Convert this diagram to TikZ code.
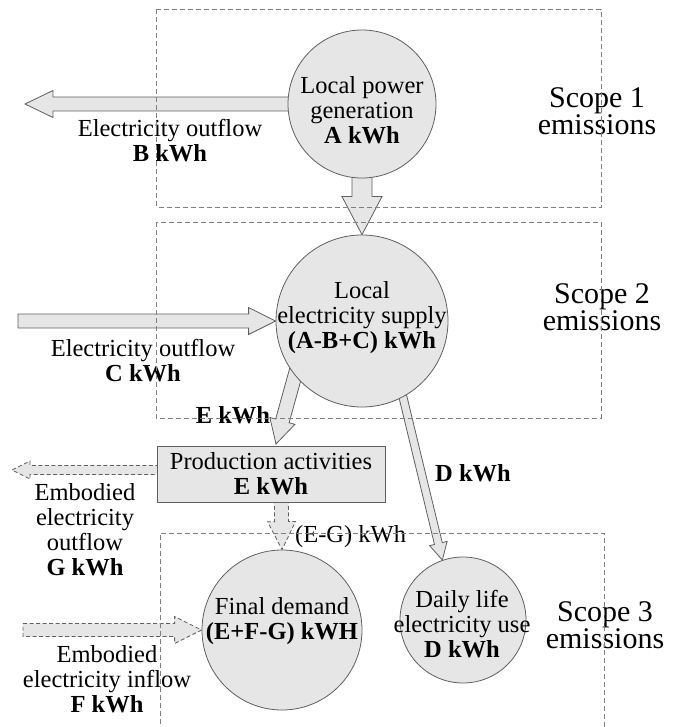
\documentclass[tikz,border=0pt]{standalone}
\usepackage{fontspec}
\setmainfont{Liberation Serif}
\usetikzlibrary{calc,backgrounds}
\definecolor{fillgray}{HTML}{E6E6E6}
\definecolor{linegray}{HTML}{606060}
\definecolor{dashgray}{HTML}{808080}
% #1 style, #2 from, #3 to, #4 half shaft width, #5 half head width, #6 head length
\newcommand\blockarrow[6]{%
  \coordinate (ba-h) at ($(#3)!#6!(#2)$);
  \draw[#1] ($(#2)!#4!90:(#3)$) -- ($(ba-h)!#4!90:(#3)$) -- ($(ba-h)!#5!90:(#3)$) -- (#3)
    -- ($(ba-h)!#5!-90:(#3)$) -- ($(ba-h)!#4!-90:(#3)$) -- ($(#2)!#4!-90:(#3)$) -- cycle;
}
\begin{document}
\begin{tikzpicture}[x=1pt,y=-1pt,
  lbl/.style={font=\fontsize{24.5pt}{25pt}\selectfont, align=center, inner sep=0pt},
  circ/.style={circle, draw=linegray, fill=fillgray, line width=0.8pt, inner sep=0pt},
  arr/.style={draw=linegray, fill=fillgray, line width=0.8pt, line join=miter},
  darr/.style={arr, dash pattern=on 4pt off 2.5pt},
  scopebox/.style={draw=dashgray, line width=0.9pt, dash pattern=on 5pt off 3pt},
  scopelbl/.style={font=\fontsize{30pt}{24pt}\selectfont, align=center, inner sep=0pt}]
\useasboundingbox (0,0) rectangle (673,727);

% nodes
\node[circ, minimum size=148pt] (gen) at (362,104) {};
\node[lbl] (genT) at (362,110) {Local power\\generation\\\textbf{A kWh}};
\node[circ, minimum size=172pt] (sup) at (362,321) {};
\node[lbl] (supT) at (362,318) {Local\\electricity supply\\\textbf{(A-B+C) kWh}};
\node[lbl, draw=linegray, fill=fillgray, line width=0.8pt, minimum width=228pt, minimum height=56pt] (prod) at (271,474) {Production activities\\\textbf{E kWh}};
\node[circ, minimum size=160pt] (final) at (282,630) {};
\node[lbl] (finalT) at (282,621) {Final demand\\\textbf{(E+F-G) kWH}};
\node[circ, minimum size=126pt] (daily) at (463,620) {};
\node[lbl] (dailyT) at (462,624) {Daily life\\electricity use\\\textbf{D kWh}};

% arrows (behind)
\begin{pgfonlayer}{background}
\coordinate (btip) at (25,104);
\blockarrow{arr}{gen.center}{btip}{7pt}{13.5pt}{28pt}
\blockarrow{arr}{gen.center}{sup.north}{10pt}{20pt}{38pt}
\coordinate (ctail) at (18,321);
\blockarrow{arr}{ctail}{sup.west}{7pt}{13.5pt}{27pt}
\coordinate (estart) at (302,350);
\coordinate (etip) at (276,444);
\blockarrow{arr}{estart}{etip}{7pt}{13pt}{24pt}
\coordinate (dstart) at (394,360);
\blockarrow{arr}{dstart}{daily.109}{4pt}{9pt}{17pt}
\coordinate (gstart) at (200,470);
\coordinate (gtip) at (12,470);
\blockarrow{darr}{gstart}{gtip}{4.5pt}{9pt}{18pt}
\coordinate (egstart) at (281,480);
\blockarrow{darr}{egstart}{final.north}{7pt}{14pt}{28pt}
\coordinate (ftail) at (23,630);
\blockarrow{darr}{ftail}{final.west}{6.5pt}{13.5pt}{27pt}
\end{pgfonlayer}

% labels
\node[lbl] (bT) at (170,141) {Electricity outflow\\\textbf{B kWh}};
\node[lbl] (cT) at (143,361) {Electricity outflow\\\textbf{C kWh}};
\node[lbl] (gT) at (85,530) {Embodied\\electricity\\outflow\\\textbf{G kWh}};
\node[lbl] (fT) at (107,679) {Embodied\\electricity inflow\\\textbf{F kWh}};
\node[lbl] (eT) at (233,415) {\textbf{E kWh}};
\node[lbl] (dT) at (473,473) {\textbf{D kWh}};
\node[lbl, anchor=west] (egT) at (295,537) {(E-G) kWh};
\node[scopelbl] (s1T) at (597,111) {Scope 1\\emissions};
\node[scopelbl] (s2T) at (602,307) {Scope 2\\emissions};
\node[scopelbl] (s3T) at (605,625) {Scope 3\\emissions};

% scope boxes
\draw[scopebox] (156,9.5) rectangle (601,207);
\draw[scopebox] (156,222) rectangle (601,418);
\draw[scopebox] (160,740) -- (160,533) -- (604,533) -- (604,740);
\end{tikzpicture}
\end{document}
